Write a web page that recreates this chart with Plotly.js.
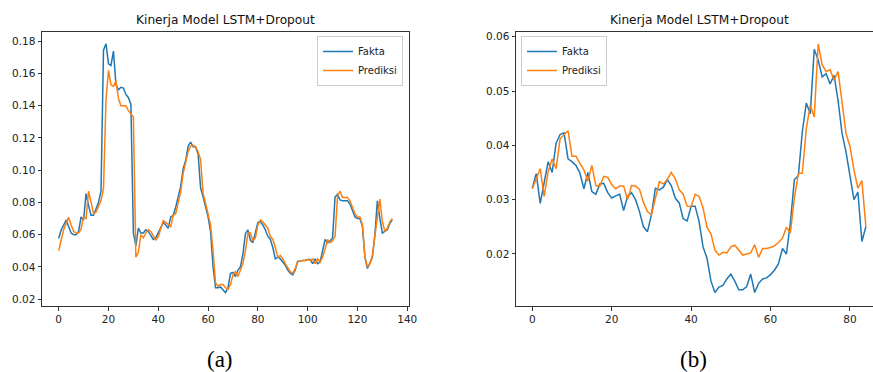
<!DOCTYPE html>
<html>
<head>
<meta charset="utf-8">
<script src="https://cdn.plot.ly/plotly-3.0.1.min.js"></script>
<style>html,body{margin:0;padding:0;background:#fff;}#chart{width:873px;height:372px;}</style>
</head>
<body>
<div id="chart"></div>
<script>
// ---- Data (a) ----
const faktaA = [0.0576,0.0628,0.066,0.069,0.065,0.061,0.060,0.060,0.062,0.071,
0.069,0.0855,0.078,0.072,0.072,0.076,0.080,0.087,0.1745,0.1785,
0.166,0.165,0.174,0.153,0.150,0.1515,0.151,0.147,0.145,0.141,
0.061,0.053,0.064,0.061,0.061,0.063,0.062,0.0595,0.057,0.058,
0.061,0.065,0.0675,0.066,0.064,0.071,0.072,0.077,0.0845,0.090,
0.101,0.106,0.115,0.1175,0.1145,0.1145,0.110,0.089,0.0835,0.0775,
0.071,0.062,0.040,0.027,0.027,0.0275,0.0255,0.024,0.027,0.036,
0.0365,0.034,0.038,0.040,0.048,0.0606,0.063,0.0565,0.055,0.061,
0.0675,0.068,0.066,0.063,0.059,0.057,0.052,0.045,0.046,0.045,
0.043,0.041,0.038,0.036,0.035,0.038,0.0435,0.0435,0.044,0.044,
0.0445,0.0445,0.042,0.045,0.042,0.043,0.050,0.057,0.055,0.056,
0.058,0.0834,0.085,0.0815,0.081,0.081,0.081,0.079,0.075,0.071,
0.070,0.070,0.065,0.046,0.039,0.043,0.046,0.060,0.081,0.070,
0.061,0.062,0.063,0.067,0.069];
const prediksiA = [0.050,0.0576,0.063,0.067,0.0707,0.066,0.062,0.061,0.061,0.0635,
0.071,0.070,0.087,0.080,0.073,0.074,0.078,0.081,0.0887,0.1435,
0.162,0.153,0.152,0.1555,0.1445,0.140,0.140,0.140,0.137,0.135,
0.133,0.046,0.049,0.060,0.058,0.061,0.063,0.062,0.0595,0.0567,
0.0587,0.063,0.0686,0.0676,0.066,0.065,0.072,0.073,0.080,0.0866,
0.098,0.105,0.1115,0.115,0.1155,0.1145,0.1115,0.1065,0.0856,0.0795,
0.073,0.066,0.050,0.030,0.028,0.029,0.029,0.027,0.026,0.029,
0.035,0.037,0.034,0.038,0.042,0.050,0.061,0.061,0.056,0.058,
0.066,0.069,0.068,0.066,0.064,0.059,0.057,0.052,0.046,0.047,
0.045,0.042,0.039,0.037,0.036,0.039,0.043,0.0435,0.044,0.044,
0.0445,0.044,0.045,0.042,0.045,0.043,0.046,0.051,0.057,0.055,
0.056,0.059,0.084,0.087,0.083,0.083,0.083,0.081,0.077,0.073,
0.071,0.071,0.066,0.046,0.040,0.042,0.047,0.061,0.071,0.082,
0.068,0.062,0.064,0.068,0.070];

// ---- Data (b) ----
const faktaB = [0.0321,0.0348,0.0293,0.0334,0.037,0.035,0.0404,0.042,0.0423,0.0375,
0.037,0.0363,0.0349,0.032,0.035,0.0315,0.031,0.0329,0.033,0.0313,
0.0303,0.0307,0.031,0.028,0.0306,0.0313,0.0300,0.0278,0.025,0.0241,
0.0272,0.0321,0.0318,0.0323,0.0337,0.0326,0.0303,0.0294,0.0265,0.0261,
0.0288,0.0288,0.026,0.0213,0.0192,0.015,0.0129,0.0139,0.0142,0.0154,
0.0163,0.015,0.0134,0.0134,0.014,0.0163,0.0129,0.0146,0.0154,0.0156,
0.0162,0.017,0.0182,0.021,0.020,0.0258,0.0337,0.0344,0.0425,0.0478,
0.0458,0.0577,0.0557,0.0526,0.0532,0.0513,0.0529,0.0483,0.0422,0.0388,
0.0340,0.030,0.0314,0.0223,0.025];
const prediksiB = [0.032,0.0337,0.0357,0.0306,0.0352,0.0375,0.0357,0.0412,0.042,0.0427,
0.038,0.038,0.0367,0.0355,0.0334,0.0363,0.0326,0.0325,0.0343,0.0341,
0.0328,0.032,0.0325,0.0325,0.030,0.0326,0.0325,0.0319,0.0295,0.0278,
0.0272,0.0300,0.0333,0.0329,0.0337,0.035,0.0339,0.0318,0.031,0.0288,
0.0287,0.031,0.0306,0.0285,0.0249,0.0237,0.0207,0.0198,0.0203,0.0202,
0.0213,0.0216,0.0208,0.0198,0.020,0.0202,0.0217,0.0194,0.021,0.021,
0.0212,0.0215,0.0221,0.0229,0.0249,0.0239,0.0303,0.0348,0.0349,0.0431,
0.0474,0.0452,0.0587,0.0548,0.0536,0.0539,0.052,0.0536,0.048,0.0422,
0.0398,0.0355,0.0321,0.0335,0.025];

const seriesNames = ["Fakta", "Prediksi"];
const chartTitle = "Kinerja Model LSTM+Dropout";
const panelLabels = ["(a)", "(b)"];
const xTicksA = [0,20,40,60,80,100,120,140];
const yTicksA = [0.02,0.04,0.06,0.08,0.10,0.12,0.14,0.16,0.18];
const xTicksB = [0,20,40,60,80];
const yTicksB = [0.02,0.03,0.04,0.05,0.06];

const idx = n => Array.from({length:n}, (_, i) => i);
const BLUE = "#1f77b4", ORANGE = "#ff7f0e";
const W = 873, H = 372;
const px = v => v / W, py = v => 1 - v / H;

const traces = [
  {x: idx(faktaA.length), y: faktaA, name: seriesNames[0], type: "scatter", mode: "lines",
   line: {color: BLUE, width: 1.5}, xaxis: "x", yaxis: "y", legend: "legend"},
  {x: idx(prediksiA.length), y: prediksiA, name: seriesNames[1], type: "scatter", mode: "lines",
   line: {color: ORANGE, width: 1.5}, xaxis: "x", yaxis: "y", legend: "legend"},
  {x: idx(faktaB.length), y: faktaB, name: seriesNames[0], type: "scatter", mode: "lines",
   line: {color: BLUE, width: 1.5}, xaxis: "x2", yaxis: "y2", legend: "legend2"},
  {x: idx(prediksiB.length), y: prediksiB, name: seriesNames[1], type: "scatter", mode: "lines",
   line: {color: ORANGE, width: 1.5}, xaxis: "x2", yaxis: "y2", legend: "legend2"}
];

const tickFont = {family: "DejaVu Sans", size: 10.5, color: "#222"};
const axisBase = {
  showgrid: false, zeroline: false, showline: true, linecolor: "#333", linewidth: 1,
  ticks: "outside", ticklen: 3.5, tickwidth: 1, tickcolor: "#333", tickfont: tickFont
};

const legendBase = {
  bgcolor: "rgba(255,255,255,0.85)", bordercolor: "#cccccc", borderwidth: 1,
  font: {family: "DejaVu Sans", size: 10, color: "#222"}, yanchor: "top",
  itemwidth: 30, tracegroupgap: 0
};

const layout = {
  width: W, height: H,
  margin: {l: 0, r: 0, t: 0, b: 0},
  paper_bgcolor: "#fff", plot_bgcolor: "#fff",
  showlegend: true,
  xaxis: Object.assign({}, axisBase, {domain: [px(42), px(409)], range: [-6.7, 140.7],
    tickvals: xTicksA, ticktext: xTicksA.map(String), mirror: true, anchor: "y"}),
  yaxis: Object.assign({}, axisBase, {domain: [py(306), py(32)], range: [0.0157, 0.1858],
    tickvals: yTicksA, ticktext: yTicksA.map(v => v.toFixed(2)), mirror: true, anchor: "x"}),
  xaxis2: Object.assign({}, axisBase, {domain: [px(516), 1], range: [-4.1, 85.8],
    tickvals: xTicksB, ticktext: xTicksB.map(String), mirror: true, anchor: "y2"}),
  yaxis2: Object.assign({}, axisBase, {domain: [py(306), py(32)], range: [0.01042, 0.06087],
    tickvals: yTicksB, ticktext: yTicksB.map(v => v.toFixed(2)), mirror: false, anchor: "x2"}),
  legend: Object.assign({}, legendBase, {x: px(403), xanchor: "right", y: py(36)}),
  legend2: Object.assign({}, legendBase, {x: px(521), xanchor: "left", y: py(36)}),
  annotations: [
    {text: chartTitle, xref: "paper", yref: "paper", x: px(225.5), y: py(20.5),
     xanchor: "center", yanchor: "middle", showarrow: false,
     font: {family: "DejaVu Sans", size: 12.2, color: "#111"}},
    {text: chartTitle, xref: "paper", yref: "paper", x: px(699), y: py(20.5),
     xanchor: "center", yanchor: "middle", showarrow: false,
     font: {family: "DejaVu Sans", size: 12.2, color: "#111"}},
    {text: panelLabels[0], xref: "paper", yref: "paper", x: px(220), y: py(359),
     xanchor: "center", yanchor: "middle", showarrow: false,
     font: {family: "Liberation Serif", size: 23, color: "#000"}},
    {text: panelLabels[1], xref: "paper", yref: "paper", x: px(693), y: py(359),
     xanchor: "center", yanchor: "middle", showarrow: false,
     font: {family: "Liberation Serif", size: 23, color: "#000"}}
  ]
};

Plotly.newPlot("chart", traces, layout, {staticPlot: true, displayModeBar: false});
</script>
</body>
</html>
